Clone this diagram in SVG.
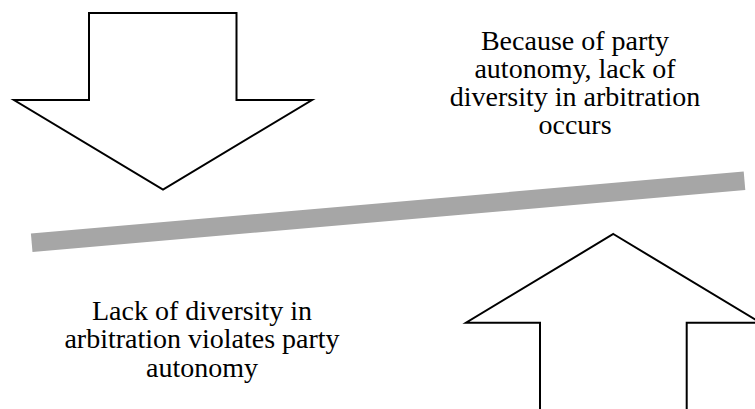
<svg xmlns="http://www.w3.org/2000/svg" width="755" height="409" viewBox="0 0 755 409">
<style>
.arrow{fill:#ffffff;stroke:#000000;stroke-width:2;stroke-linejoin:miter}
.lbl{font-family:"Liberation Serif","Times New Roman",serif;font-size:28px;fill:#000000;text-anchor:middle}
.bar{stroke:#A6A6A6;stroke-width:18.5;fill:none}
</style>
<rect width="755" height="409" fill="#ffffff"/>
<g id="connectors">
<line class="bar" x1="31.7" y1="242.8" x2="744.5" y2="180.8"/>
</g>
<g id="down-arrow">
<polygon class="arrow" points="89,13 236.5,13 236.5,100 312,100 163,189.5 14,100 89,100"/>
</g>
<g id="up-arrow">
<polygon class="arrow" points="613.3,234 760.5,322.7 686.7,322.7 686.7,420 540,420 540,322.7 466,322.7"/>
</g>
<g id="label-top">
<text class="lbl" x="575" y="49.5">Because of party</text>
<text class="lbl" x="575" y="77.8">autonomy, lack of</text>
<text class="lbl" x="575" y="106">diversity in arbitration</text>
<text class="lbl" x="575" y="134.2">occurs</text>
</g>
<g id="label-bottom">
<text class="lbl" x="202" y="319.5">Lack of diversity in</text>
<text class="lbl" x="202" y="348">arbitration violates party</text>
<text class="lbl" x="202" y="376.5">autonomy</text>
</g>
</svg>
